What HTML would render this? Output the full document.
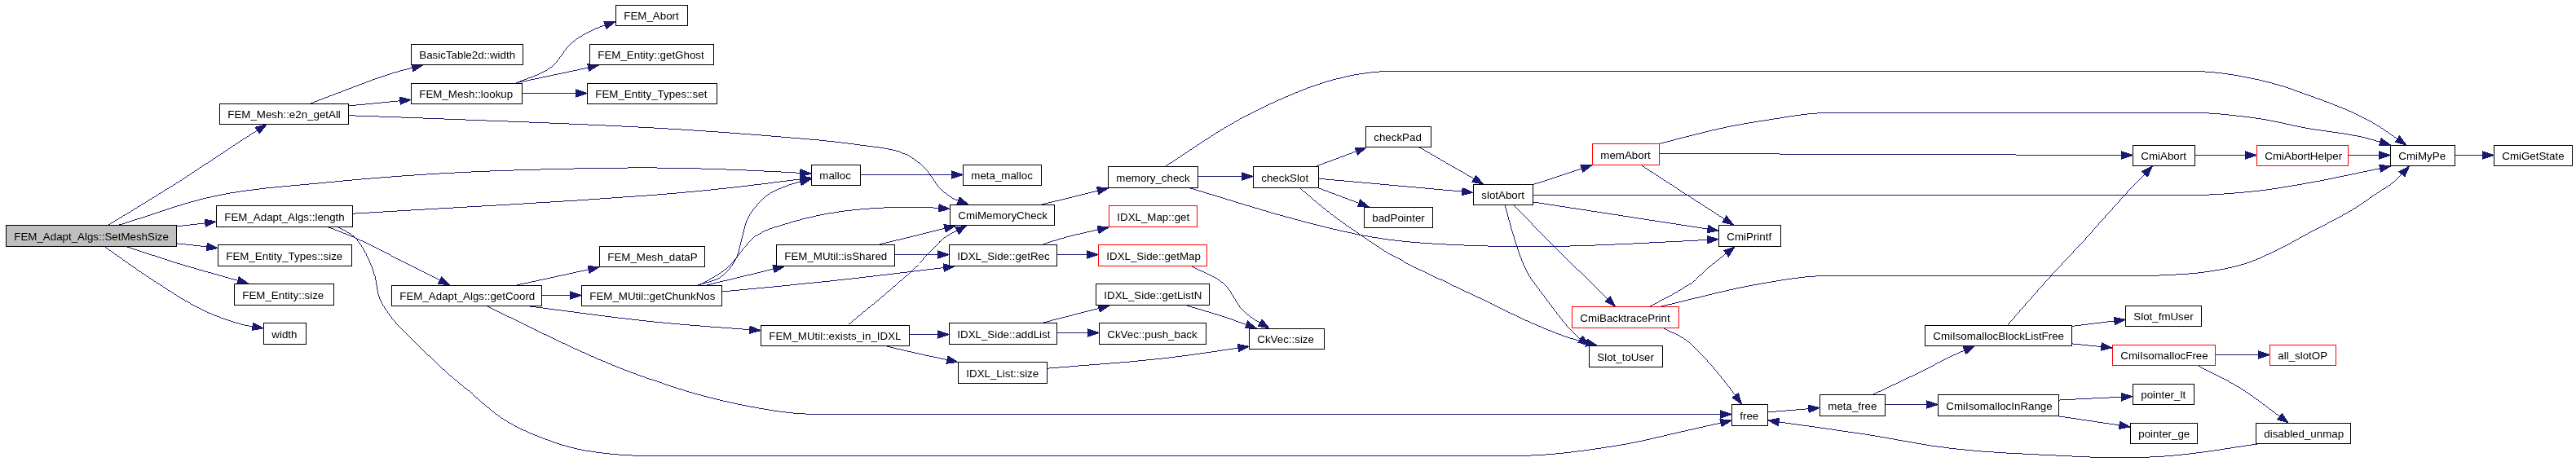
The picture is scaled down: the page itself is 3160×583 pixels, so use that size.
<!DOCTYPE html>
<html><head><meta charset="utf-8"><title>FEM_Adapt_Algs::SetMeshSize call graph</title>
<style>
html,body{margin:0;padding:0;background:#fff}
svg{display:block}
.n rect{fill:#fff;stroke-width:1;shape-rendering:crispEdges}
.n text{font-family:"Liberation Sans",Arial,Helvetica,sans-serif;font-size:13.333px;fill:#000;text-anchor:start}
.e path{fill:none;stroke:#191970;stroke-width:0.99;shape-rendering:crispEdges}
.e polygon{fill:#191970;stroke:#191970;stroke-width:1;shape-rendering:crispEdges}
</style></head>
<body>
<svg width="3160" height="583" viewBox="0 0 3160 583">
<rect x="0" y="0" width="3160" height="583" fill="#fff"/>
<g class="e">
<path d="M132.4,276.5C160.9,259 189.8,242 218,224C245.6,206.4 272.5,187.7 300,170C308.9,164.2 318,158.7 327,153"/><polygon points="327,153 318.2,164 313.2,156.1"/>
<path d="M144.9,276.5C184.9,264.4 224.1,248.9 265,240.3C309.5,231 355.1,228.5 400.3,224C445.3,219.5 490.3,215.9 535.4,213.2C580.4,210.5 625.4,209 670.5,207.8C715.6,206.6 760.6,205.7 805.7,206C839.5,206.2 873.2,207.3 907,208.6C936.3,209.7 965.7,211.5 995,213"/><polygon points="995,213 981.5,217 982,207.7"/>
<path d="M216.5,277.8L265,272.2"/><polygon points="265,272.2 252.3,278.4 251.3,269.1"/>
<path d="M216.5,298.9L267,304.5"/><polygon points="267,304.5 253.3,307.7 254.3,298.4"/>
<path d="M154.2,302.3C175.5,309.3 196.6,316.6 218,323.2C246.7,332 275.8,339.7 304.7,348"/><polygon points="304.7,348 290.6,348.9 293.2,339.9"/>
<path d="M127.7,302.3C147.4,316 166.7,330.4 186.9,343.4C207.2,356.5 227.4,370.3 249.2,380.8C264.2,388 280,393.6 296,398C304.8,400.4 314,401.3 323,402.9"/><polygon points="323,402.9 309.1,405.4 310.6,396.2"/>
<path d="M380,127.4C398.7,120.3 417.3,112.9 436,106C450.5,100.6 465,94.9 479.8,90.3C492.6,86.3 505.7,83.4 518.7,80"/><polygon points="518.7,80 507,87.8 504.7,78.8"/>
<path d="M427.4,130L504,122.4"/><polygon points="504,122.4 491.2,128.4 490.3,119.1"/>
<path d="M427.4,141.7C466.6,143.1 505.8,144.4 545,146C630,149.4 715.1,152.1 800,156.9C852,159.8 903.9,163.4 955.8,167.8C986.9,170.5 1018.1,172.6 1049,177.2C1070,180.3 1092.1,180.9 1111.5,189.6C1121,193.8 1129.1,200.9 1136.4,208.3C1142.6,214.7 1145.9,223.6 1152,230.1C1156.6,234.9 1161.9,239.2 1167.6,242.6C1173.9,246.3 1181.2,248.2 1188,251"/><polygon points="1188,251 1173.9,250.7 1177.2,242"/>
<path d="M632.4,102.2C646.9,95.7 663.3,92.2 676,82.6C686.3,74.8 691.2,61.4 700.9,53C708.3,46.6 717.1,41.7 725.9,37.4C735.2,32.8 745.3,30.1 755,26.5"/><polygon points="755,26.5 744,35.3 740.9,26.4"/>
<path d="M635.5,101.2L734.6,80"/><polygon points="734.6,80 722.6,87.3 720.6,78.2"/>
<path d="M640.5,114.5L720,114.5"/><polygon points="720,114.5 706.7,119.2 706.7,109.8"/>
<path d="M432.4,262.2C554.9,254.6 677.6,249 800,239.5C831.2,237.1 862.4,234.1 893.5,230.7C927.4,227 961.2,222.4 995,218.3"/><polygon points="995,218.3 982.4,224.6 981.2,215.3"/>
<path d="M401.9,278.4C413.3,282.9 424.9,287 436.1,292C457.3,301.5 477.7,312.8 498.4,323.2C516.1,332.1 533.7,341.1 551.4,350"/><polygon points="551.4,350 537.4,348.2 541.6,339.8"/>
<path d="M414.3,278.4C421.5,282.9 430.2,285.8 436,292C446.5,303.2 452.4,318.2 458,332.5C462.7,344.5 461.3,358.6 467.3,370C481.9,397.6 507.4,418 529.6,440C543.7,454.1 559.2,466.7 574.5,479.5C589.7,492.3 604.1,506.4 621.1,516.7C640.4,528.4 661.8,536.7 683.2,544C695.3,548.2 707.8,551.3 720.5,553.4C745.9,557.6 771.8,559.5 797.5,559.5C1150.9,559.5 1504.4,559.5 1857.8,559.5C1901.5,559.5 1945.1,553.1 1988.2,546.2C2014.3,542 2039.9,534.9 2065.8,529.2C2085.2,524.9 2104.6,520.5 2124,516.1"/><polygon points="2124,516.1 2112.1,523.6 2110,514.5"/>
<path d="M632.4,350.3L735,328"/><polygon points="735,328 723,335.4 721,326.3"/>
<path d="M664.5,362.5L713,362.5"/><polygon points="713,362.5 699.7,367.2 699.7,357.8"/>
<path d="M646.4,375.5C697.6,381.9 748.7,389.5 800,394.8C844.2,399.4 888.7,402.1 933,405.7"/><polygon points="933,405.7 919.4,409.3 920.1,400"/>
<path d="M596.6,375.5C641.8,397 686.2,420.2 732.1,440C753.6,449.3 775.4,457.7 797.5,465.5C818.8,473 840.2,479.8 862,485.7C882.5,491.2 903.2,495.8 924,499.7C939.5,502.6 955.1,505.3 970.8,506.8C984.1,508.1 997.6,508.5 1011,508.5C1382,508.5 1753,508.5 2124,508.5"/><polygon points="2124,508.5 2110.7,513.2 2110.7,503.8"/>
<path d="M854.7,350.3C864.5,346.9 875.6,345.9 884.2,340C891.7,334.9 897.5,327.3 901.9,319.4C906.8,310.4 907.9,299.8 910.8,289.9C912.8,283 913.7,275.7 916.7,269.2C919.7,262.8 923.9,256.9 928.5,251.5C932.8,246.5 937.7,241.9 943.2,238.3C951.3,233 960.7,229.7 969.8,226.5C978,223.6 986.6,222 995,219.8"/><polygon points="995,219.8 983.2,227.5 981,218.4"/>
<path d="M857.7,350.3C869.5,342.9 882.6,337.4 893.1,328.2C901.2,321.1 906.4,311.2 913.7,303.2C918.4,298 922.7,292.2 928.5,288.4C937.3,282.6 947.9,279.9 958,276.6C977.3,270.4 997,265.5 1017,261.9C1036.5,258.4 1056.3,256.6 1076,255.4C1095.6,254.2 1115.3,254.1 1135,254.5C1145,254.7 1155,255.7 1165,256.3"/><polygon points="1165,256.3 1151.4,260 1152.1,250.7"/>
<path d="M865.4,350.3L962,327"/><polygon points="962,327 950.2,334.7 948,325.6"/>
<path d="M885.7,358C929.8,353.7 973.9,349.8 1018,345C1069.1,339.5 1120,333 1171,327"/><polygon points="1171,327 1158.3,333.2 1157.2,323.9"/>
<path d="M1078.8,299.8C1088.5,297.5 1098.3,295.3 1108,293C1129.4,287.8 1150.7,282.3 1172,277"/><polygon points="1172,277 1160.2,284.8 1158,275.7"/>
<path d="M1097.5,312.5L1164,312.5"/><polygon points="1164,312.5 1150.7,317.2 1150.7,307.8"/>
<path d="M1041.4,398C1064.8,378.2 1089,359.4 1111.5,338.7C1122.3,328.8 1132.4,318 1142.7,307.6C1147.5,302.8 1151.6,297.1 1157,293C1165.8,286.3 1176.3,282.3 1186,277"/><polygon points="1186,277 1176.3,287.2 1172,278.9"/>
<path d="M1115.6,410.5L1164,410.5"/><polygon points="1164,410.5 1150.7,415.2 1150.7,405.8"/>
<path d="M1085,424.4C1101.8,428.3 1118.6,432.3 1135.4,436C1148.6,438.9 1161.8,441.6 1175,444.4"/><polygon points="1175,444.4 1161,446.2 1162.9,437.1"/>
<path d="M1279.8,299.8C1287.5,297.3 1295.2,294.6 1303,292.4C1321.8,287.2 1341,283.5 1360,279"/><polygon points="1360,279 1348.1,286.5 1346,277.4"/>
<path d="M1296.6,312.5L1347,312.5"/><polygon points="1347,312.5 1333.7,317.2 1333.7,307.8"/>
<path d="M1460.4,326.3C1473.9,333.5 1489.4,337.9 1501,348C1511.7,357.3 1515.7,372.5 1525.9,382.3C1534.9,390.9 1546.6,396.1 1557,403"/><polygon points="1557,403 1543.2,400.1 1548.1,392.1"/>
<path d="M1279.8,396L1361,375"/><polygon points="1361,375 1349.3,382.9 1347,373.8"/>
<path d="M1296.6,408.5L1348,408.5"/><polygon points="1348,408.5 1334.7,413.2 1334.7,403.8"/>
<path d="M1454.2,374.6C1469.8,379.3 1485.5,383.5 1501,388.6C1514.6,393.1 1527.9,398.2 1541.4,403"/><polygon points="1541.4,403 1527.3,402.9 1530.5,394.1"/>
<path d="M1284.5,452.1C1331.7,448.1 1379.1,445.3 1426.2,440C1461.6,436 1496.7,430.2 1532,425.3"/><polygon points="1532,425.3 1519.5,431.8 1518.2,422.5"/>
<path d="M1055.8,214.5L1181,214.5"/><polygon points="1181,214.5 1167.7,219.2 1167.7,209.8"/>
<path d="M1278.2,251L1359.5,231"/><polygon points="1359.5,231 1347.7,238.7 1345.5,229.6"/>
<path d="M1469.8,216.5L1537,216.5"/><polygon points="1537,216.5 1523.7,221.2 1523.7,211.8"/>
<path d="M1429.3,204.3C1459.4,185.2 1488.3,164.1 1519.6,147C1545.5,132.8 1572.5,120.5 1600,109.7C1613.2,104.5 1626.8,100.1 1640.5,96.6C1652.8,93.4 1665.3,91 1677.9,89.4C1687.2,88.2 1696.6,87.5 1706,87.5C2034,87.5 2362,87.5 2690,87.5C2717.3,87.5 2744.5,92.3 2771.2,98.1C2790.3,102.2 2808.9,108.7 2827.3,115.3C2853.5,124.7 2879.8,134.1 2904.4,147C2921.1,155.8 2936.1,167.7 2951.9,178"/><polygon points="2951.9,178 2938.3,174.4 2943.5,166.7"/>
<path d="M1457.3,230.1C1504.9,244.1 1551.9,259.9 1600,272.2C1631.7,280.3 1663.6,288.3 1696,293C1731.2,298.2 1766.9,299.8 1802.5,301.3C1838.8,302.9 1875.2,302.8 1911.5,302.3C1942.7,301.9 1973.8,300.3 2005,298.9C2039.3,297.4 2073.7,295.4 2108,293.6"/><polygon points="2108,293.6 2095,299 2094.5,289.6"/>
<path d="M1614,204.3L1676.3,181"/><polygon points="1676.3,181 1665.5,190 1662.2,181.3"/>
<path d="M1617.4,219.2L1807,236.3"/><polygon points="1807,236.3 1793.3,239.8 1794.2,230.5"/>
<path d="M1615.6,230.1L1679.4,254"/><polygon points="1679.4,254 1665.3,253.7 1668.6,245"/>
<path d="M1593.9,230.3C1607.2,241.3 1620,252.8 1633.7,263.3C1646.1,272.8 1659.1,281.7 1672.1,290.5C1683.7,298.4 1695.3,306.5 1707.5,313.5C1726.6,324.4 1746.7,333.4 1766.5,343C1782.1,350.6 1798,357.7 1813.7,365.1C1835.2,375.3 1856.2,386.4 1878,396C1892.5,402.4 1907.2,408.6 1922.2,413.7C1934.3,417.8 1946.8,420.6 1959.1,424"/><polygon points="1959.1,424 1945,425.1 1947.4,416.1"/>
<path d="M1740.2,180.3L1819.6,226"/><polygon points="1819.6,226 1805.7,223.4 1810.4,215.3"/>
<path d="M1880.4,226.7L1953,202.7"/><polygon points="1953,202.7 1941.8,211.3 1938.9,202.4"/>
<path d="M1880.4,239.5C2149.3,239.5 2418.1,239.5 2687,239.5C2713,239.5 2739.1,237.5 2765,234.8C2785.9,232.6 2806.6,229 2827.3,225.4C2848.2,221.8 2868.9,217.2 2889.6,213C2903.9,210.1 2918.3,207 2932.6,204"/><polygon points="2932.6,204 2920.5,211.3 2918.6,202.2"/>
<path d="M1880.4,247.9L2108,283.1"/><polygon points="2108,283.1 2094.1,285.7 2095.6,276.5"/>
<path d="M1857,251.6C1870.3,265.4 1883.5,279.4 1897,293C1924.8,321 1953.4,348.3 1981.6,376"/><polygon points="1981.6,376 1968.8,370 1975.4,363.4"/>
<path d="M1846.1,251.6C1850,265.4 1853.3,279.4 1857.8,293C1862.6,307.4 1866.9,322.2 1874.1,335.6C1878.4,343.6 1884.5,350.4 1889.8,357.7C1895.6,365.6 1901.5,373.5 1907.5,381.3C1913.3,388.8 1918.8,396.5 1925.2,403.4C1929.8,408.4 1934.7,413 1940,417.3C1943.1,419.8 1946.5,421.8 1949.7,424"/><polygon points="1949.7,424 1936.1,420.2 1941.5,412.5"/>
<path d="M2035.5,176.2C2061.7,169.8 2087.6,162.5 2114,156.9C2132.5,153 2151.2,149.8 2170,147C2193.8,143.5 2217.6,138.5 2241.7,138.5C2392.8,138.5 2543.9,138.5 2695,138.5C2713.2,138.5 2731.3,140.7 2749.4,142.7C2759.6,143.8 2769.9,145.2 2780,147C2795.9,149.8 2811.5,154 2827.3,156.9C2850,161.1 2873.2,162.9 2895.8,167.8C2908.2,170.5 2920.3,174.6 2932.6,178"/><polygon points="2932.6,178 2918.5,178.8 2921.1,169.8"/>
<path d="M2035.5,188.5L2616,190.5"/><polygon points="2616,190.5 2602.7,195.1 2602.7,185.8"/>
<path d="M2012.8,202.4C2031,214.2 2049.1,226.1 2067.3,237.9C2087,250.7 2106.8,263.3 2126.5,276"/><polygon points="2126.5,276 2112.8,272.7 2117.8,264.9"/>
<path d="M2023.7,376.4C2040.3,367 2057.9,359.2 2073.5,348.1C2082.5,341.7 2089.9,333.3 2098.4,326.3C2108.1,318.3 2118.1,310.8 2128,303"/><polygon points="2128,303 2120.4,314.9 2114.6,307.5"/>
<path d="M2036.1,376.4C2077.6,367 2118.7,355.3 2160.7,348.1C2187.5,343.5 2214.5,338.5 2241.7,338.5C2371.1,338.5 2500.6,338.5 2630,338.5C2639.7,338.5 2649.3,338 2659,337.5C2673.8,336.7 2688.6,336.2 2703.2,334.2C2720.1,331.8 2737.1,329 2753.4,323.9C2766.6,319.8 2779.2,313.7 2791.7,307.7C2806.8,300.5 2821.2,292 2836,284.1C2851.7,275.7 2867.9,268.1 2883.2,259C2895.4,251.7 2906.8,243.3 2918.6,235.4C2924.5,231.5 2930.8,228.1 2936.3,223.6C2943.3,217.8 2949.1,210.5 2955.5,204"/><polygon points="2955.5,204 2949.9,216.9 2943,210.6"/>
<path d="M2039.3,402.3C2048.6,407.1 2058.7,410.6 2067.3,416.6C2075.8,422.6 2082.8,430.5 2090,438C2097.9,446.3 2105.2,455.1 2112.4,464C2120.8,474.4 2128.5,485.3 2136.6,496"/><polygon points="2136.6,496 2124.9,488.1 2132.4,482.5"/>
<path d="M2168.6,505.9L2232,500.6"/><polygon points="2232,500.6 2219.1,506.4 2218.4,497.1"/>
<path d="M2297.2,484.4C2318.1,474.5 2339.2,464.9 2360,454.6C2371.4,448.9 2382.5,442.4 2394,437C2403.3,432.6 2412.9,429 2422.3,425"/><polygon points="2422.3,425 2411.8,434.4 2408.2,425.8"/>
<path d="M2312.7,496.5L2377,496.5"/><polygon points="2377,496.5 2363.7,501.2 2363.7,491.8"/>
<path d="M2462.8,398.9C2480.5,378.8 2497.8,358.5 2515.8,338.7C2529.8,323.3 2544.4,308.4 2558.5,293C2575.6,274.3 2591.9,254.9 2609.2,236.3C2619.4,225.3 2630,214.8 2640.4,204"/><polygon points="2640.4,204 2634.5,216.8 2627.8,210.3"/>
<path d="M2541.6,400.4L2607,392.3"/><polygon points="2607,392.3 2594.4,398.6 2593.2,389.3"/>
<path d="M2541.6,421.9L2591,426.9"/><polygon points="2591,426.9 2577.3,430.2 2578.2,420.9"/>
<path d="M2717.6,435.5L2784,435.5"/><polygon points="2784,435.5 2770.7,440.2 2770.7,430.8"/>
<path d="M2695.4,448.4C2713,457.7 2731.3,465.9 2748.2,476.4C2768.8,489.2 2787.5,504.8 2807.2,519"/><polygon points="2807.2,519 2793.7,514.9 2799.3,507.3"/>
<path d="M2773,544.4C2738.9,549.2 2704.9,555.5 2670.6,558.7C2649.9,560.7 2629.2,561.6 2608.4,561.8C2577.4,562.1 2546.3,560.2 2515.3,558.7C2476,556.7 2436.6,555.4 2397.5,550.9C2359.1,546.5 2321.4,538.1 2283.2,532.3C2245.2,526.5 2207.1,521.5 2169,516.1"/><polygon points="2169,516.1 2182.8,513.3 2181.5,522.6"/>
<path d="M2525.5,491L2616,486.6"/><polygon points="2616,486.6 2602.9,491.9 2602.5,482.6"/>
<path d="M2523,510.5L2613,523.9"/><polygon points="2613,523.9 2599.2,526.6 2600.5,517.3"/>
<path d="M2692.7,190.5L2768,190.5"/><polygon points="2768,190.5 2754.7,195.2 2754.7,185.8"/>
<path d="M2880.9,190.5L2932,190.5"/><polygon points="2932,190.5 2918.7,195.2 2918.7,185.8"/>
<path d="M3011.7,190.5L3059,190.5"/><polygon points="3059,190.5 3045.7,195.2 3045.7,185.8"/>
</g>
<g class="n" style="will-change:transform">
<g><rect x="7.5" y="276.5" width="209" height="26" stroke="#000" style="fill:#bfbfbf"/><text x="17.3" y="294.7">FEM_Adapt_Algs::SetMeshSize</text></g>
<g><rect x="269.5" y="127.5" width="158" height="25" stroke="#000"/><text x="279.3" y="145.4">FEM_Mesh::e2n_getAll</text></g>
<g><rect x="265.5" y="252.5" width="167" height="26" stroke="#000"/><text x="275.3" y="270.7">FEM_Adapt_Algs::length</text></g>
<g><rect x="267.5" y="300.5" width="164" height="26" stroke="#000"/><text x="277.3" y="318.7">FEM_Entity_Types::size</text></g>
<g><rect x="287.5" y="348.5" width="122" height="26" stroke="#000"/><text x="297.3" y="366.7">FEM_Entity::size</text></g>
<g><rect x="323.5" y="396.5" width="52" height="26" stroke="#000"/><text x="333.3" y="414.7">width</text></g>
<g><rect x="504.5" y="54.5" width="137" height="25" stroke="#000"/><text x="514.3" y="72.1">BasicTable2d::width</text></g>
<g><rect x="504.5" y="102.5" width="136" height="25" stroke="#000"/><text x="514.3" y="120.1">FEM_Mesh::lookup</text></g>
<g><rect x="480.5" y="350.5" width="184" height="25" stroke="#000"/><text x="490.3" y="368.1">FEM_Adapt_Algs::getCoord</text></g>
<g><rect x="755.5" y="6.5" width="88" height="25" stroke="#000"/><text x="765.3" y="24.1">FEM_Abort</text></g>
<g><rect x="723.5" y="54.5" width="152" height="25" stroke="#000"/><text x="733.3" y="72.1">FEM_Entity::getGhost</text></g>
<g><rect x="720.5" y="102.5" width="159" height="25" stroke="#000"/><text x="730.3" y="120.1">FEM_Entity_Types::set</text></g>
<g><rect x="735.5" y="302.5" width="129" height="25" stroke="#000"/><text x="745.3" y="320.1">FEM_Mesh_dataP</text></g>
<g><rect x="713.5" y="350.5" width="172" height="25" stroke="#000"/><text x="723.3" y="368.1">FEM_MUtil::getChunkNos</text></g>
<g><rect x="995.5" y="202.5" width="60" height="25" stroke="#000"/><text x="1005.3" y="220.1">malloc</text></g>
<g><rect x="952.5" y="300.5" width="145" height="26" stroke="#000"/><text x="962.3" y="318.7">FEM_MUtil::isShared</text></g>
<g><rect x="933.5" y="399.5" width="182" height="25" stroke="#000"/><text x="943.3" y="417.4">FEM_MUtil::exists_in_IDXL</text></g>
<g><rect x="1181.5" y="202.5" width="96" height="25" stroke="#000"/><text x="1191.3" y="220.1">meta_malloc</text></g>
<g><rect x="1165.5" y="251.5" width="128" height="25" stroke="#000"/><text x="1175.3" y="269.4">CmiMemoryCheck</text></g>
<g><rect x="1164.5" y="300.5" width="132" height="26" stroke="#000"/><text x="1174.3" y="318.7">IDXL_Side::getRec</text></g>
<g><rect x="1164.5" y="396.5" width="132" height="26" stroke="#000"/><text x="1174.3" y="414.7">IDXL_Side::addList</text></g>
<g><rect x="1175.5" y="444.5" width="109" height="26" stroke="#000"/><text x="1185.3" y="462.7">IDXL_List::size</text></g>
<g><rect x="1359.5" y="204.5" width="110" height="26" stroke="#000"/><text x="1369.3" y="222.7">memory_check</text></g>
<g><rect x="1360.5" y="252.5" width="108" height="26" stroke="#ff0000"/><text x="1370.3" y="270.7">IDXL_Map::get</text></g>
<g><rect x="1347.5" y="300.5" width="133" height="26" stroke="#ff0000"/><text x="1357.3" y="318.7">IDXL_Side::getMap</text></g>
<g><rect x="1344.5" y="348.5" width="139" height="26" stroke="#000"/><text x="1354.3" y="366.7">IDXL_Side::getListN</text></g>
<g><rect x="1348.5" y="396.5" width="131" height="26" stroke="#000"/><text x="1358.3" y="414.7">CkVec::push_back</text></g>
<g><rect x="1537.5" y="204.5" width="80" height="26" stroke="#000"/><text x="1547.3" y="222.7">checkSlot</text></g>
<g><rect x="1532.5" y="403.5" width="92" height="25" stroke="#000"/><text x="1542.3" y="421.4">CkVec::size</text></g>
<g><rect x="1675.5" y="155.5" width="80" height="25" stroke="#000"/><text x="1685.3" y="173.4">checkPad</text></g>
<g><rect x="1673.5" y="254.5" width="84" height="25" stroke="#000"/><text x="1683.3" y="272.1">badPointer</text></g>
<g><rect x="1807.5" y="226.5" width="73" height="25" stroke="#000"/><text x="1817.3" y="244.1">slotAbort</text></g>
<g><rect x="1953.5" y="176.5" width="82" height="26" stroke="#ff0000"/><text x="1963.3" y="194.7">memAbort</text></g>
<g><rect x="1928.5" y="376.5" width="131" height="26" stroke="#ff0000"/><text x="1938.3" y="394.7">CmiBacktracePrint</text></g>
<g><rect x="1949.5" y="424.5" width="90" height="26" stroke="#000"/><text x="1959.3" y="442.7">Slot_toUser</text></g>
<g><rect x="2108.5" y="276.5" width="76" height="26" stroke="#000"/><text x="2118.3" y="294.7">CmiPrintf</text></g>
<g><rect x="2124.5" y="496.5" width="44" height="26" stroke="#000"/><text x="2134.3" y="514.7">free</text></g>
<g><rect x="2232.5" y="484.5" width="80" height="26" stroke="#000"/><text x="2242.3" y="502.7">meta_free</text></g>
<g><rect x="2361.5" y="399.5" width="180" height="25" stroke="#000"/><text x="2371.3" y="417.4">CmiIsomallocBlockListFree</text></g>
<g><rect x="2377.5" y="484.5" width="148" height="26" stroke="#000"/><text x="2387.3" y="502.7">CmiIsomallocInRange</text></g>
<g><rect x="2616.5" y="178.5" width="76" height="25" stroke="#000"/><text x="2626.3" y="196.1">CmiAbort</text></g>
<g><rect x="2607.5" y="375.5" width="93" height="25" stroke="#000"/><text x="2617.3" y="393.4">Slot_fmUser</text></g>
<g><rect x="2591.5" y="423.5" width="126" height="25" stroke="#ff0000"/><text x="2601.3" y="441.4">CmiIsomallocFree</text></g>
<g><rect x="2616.5" y="471.5" width="75" height="25" stroke="#000"/><text x="2626.3" y="489.4">pointer_lt</text></g>
<g><rect x="2613.5" y="519.5" width="82" height="25" stroke="#000"/><text x="2623.3" y="537.4">pointer_ge</text></g>
<g><rect x="2768.5" y="178.5" width="112" height="25" stroke="#ff0000"/><text x="2778.3" y="196.1">CmiAbortHelper</text></g>
<g><rect x="2784.5" y="423.5" width="81" height="25" stroke="#ff0000"/><text x="2794.3" y="441.4">all_slotOP</text></g>
<g><rect x="2767.5" y="519.5" width="116" height="25" stroke="#000"/><text x="2777.3" y="537.4">disabled_unmap</text></g>
<g><rect x="2932.5" y="178.5" width="79" height="25" stroke="#000"/><text x="2942.3" y="196.1">CmiMyPe</text></g>
<g><rect x="3059.5" y="178.5" width="96" height="25" stroke="#000"/><text x="3069.3" y="196.1">CmiGetState</text></g>
</g>
</svg>
</body></html>
